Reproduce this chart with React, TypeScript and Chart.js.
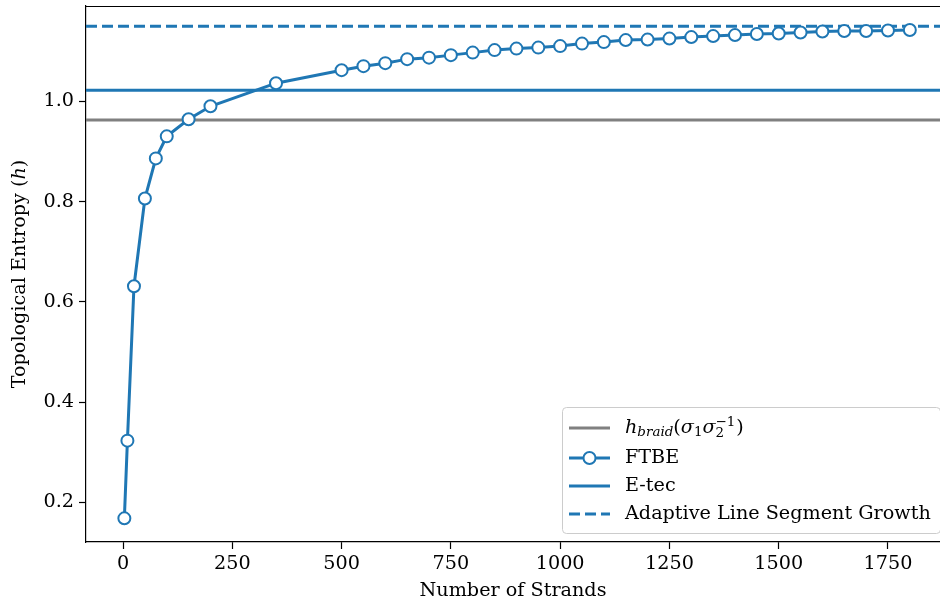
import React, { useEffect, useRef } from "react";
import { Chart, registerables } from "chart.js";

Chart.register(...registerables);

// ---- data ----
const strands = [3, 10, 25, 50, 75, 100, 150, 200, 350, 500, 550, 600, 650, 700, 750, 800, 850, 900, 950, 1000, 1050, 1100, 1150, 1200, 1250, 1300, 1350, 1400, 1450, 1500, 1550, 1600, 1650, 1700, 1750, 1800];
const ftbe = [0.168, 0.323, 0.631, 0.806, 0.886, 0.930, 0.964, 0.990, 1.036, 1.062, 1.070, 1.076, 1.084, 1.087, 1.092, 1.097, 1.102, 1.105, 1.107, 1.110, 1.115, 1.118, 1.122, 1.123, 1.125, 1.128, 1.130, 1.132, 1.134, 1.135, 1.137, 1.139, 1.140, 1.140, 1.141, 1.142];
const hBraid = 0.9624;
const eTec = 1.022;
const alsg = 1.1496;
const xTicks = [0, 250, 500, 750, 1000, 1250, 1500, 1750];
const yTicks = [0.2, 0.4, 0.6, 0.8, 1.0];
const xLimits = [-84.75, 1869];
const yLimits = [0.1208, 1.19];

const BLUE = "#1f77b4";
const GRAY = "#808080";
const FONT = "'DejaVu Serif', serif";
const FS = 19.2;

type Piece = { t: string; italic?: boolean; scale?: number; dy?: number };

function drawPieces(ctx: CanvasRenderingContext2D, pieces: Piece[], x: number, y: number, size: number) {
  let cx = x;
  for (const p of pieces) {
    const s = size * (p.scale ?? 1);
    ctx.font = `${p.italic ? "italic " : ""}${s}px ${FONT}`;
    ctx.fillText(p.t, cx, y + (p.dy ?? 0) * size);
    cx += ctx.measureText(p.t).width;
  }
  return cx - x;
}
function measurePieces(ctx: CanvasRenderingContext2D, pieces: Piece[], size: number) {
  let w = 0;
  for (const p of pieces) {
    const s = size * (p.scale ?? 1);
    ctx.font = `${p.italic ? "italic " : ""}${s}px ${FONT}`;
    w += ctx.measureText(p.t).width;
  }
  return w;
}

const extrasPlugin = {
  id: "extras",
  afterDraw(chart: any) {
    const ctx: CanvasRenderingContext2D = chart.ctx;
    const a = chart.chartArea;
    ctx.save();
    // top spine
    ctx.strokeStyle = "#000";
    ctx.lineWidth = 1.2;
    ctx.beginPath();
    ctx.moveTo(a.left, a.top + 0.5);
    ctx.lineTo(a.right, a.top + 0.5);
    ctx.stroke();

    // y title
    const yTitle: Piece[] = [{ t: "Topological Entropy (" }, { t: "h", italic: true }, { t: ")" }];
    ctx.fillStyle = "#000";
    ctx.textBaseline = "middle";
    ctx.textAlign = "left";
    ctx.translate(20, (a.top + a.bottom) / 2);
    ctx.rotate(-Math.PI / 2);
    const w = measurePieces(ctx, yTitle, FS);
    drawPieces(ctx, yTitle, -w / 2, 0, FS);
    ctx.restore();

    // legend
    ctx.save();
    const bx = 562, by = 407, bw = 378, bh = 126;
    ctx.fillStyle = "rgba(255,255,255,0.8)";
    ctx.strokeStyle = "#cccccc";
    ctx.lineWidth = 1;
    ctx.beginPath();
    (ctx as any).roundRect(bx + 0.5, by + 0.5, bw, bh, 4);
    ctx.fill();
    ctx.stroke();
    const rows = [428, 458, 486, 514];
    const hx0 = 569, hx1 = 610, tx = 625;
    ctx.lineWidth = 3;
    ctx.strokeStyle = GRAY;
    ctx.beginPath(); ctx.moveTo(hx0, rows[0]); ctx.lineTo(hx1, rows[0]); ctx.stroke();
    ctx.strokeStyle = BLUE;
    ctx.beginPath(); ctx.moveTo(hx0, rows[1]); ctx.lineTo(hx1, rows[1]); ctx.stroke();
    ctx.beginPath(); ctx.arc((hx0 + hx1) / 2, rows[1], 6, 0, Math.PI * 2);
    ctx.fillStyle = "#fff"; ctx.fill(); ctx.lineWidth = 2; ctx.stroke();
    ctx.lineWidth = 3;
    ctx.beginPath(); ctx.moveTo(hx0, rows[2]); ctx.lineTo(hx1, rows[2]); ctx.stroke();
    ctx.setLineDash([11, 5]);
    ctx.beginPath(); ctx.moveTo(hx0, rows[3]); ctx.lineTo(hx1, rows[3]); ctx.stroke();
    ctx.setLineDash([]);

    ctx.fillStyle = "#000";
    ctx.textBaseline = "middle";
    ctx.textAlign = "left";
    const head: Piece[] = [
      { t: "h", italic: true },
      { t: "braid", italic: true, scale: 0.7, dy: 0.25 },
      { t: "(" },
      { t: "σ", italic: true },
      { t: "1", scale: 0.7, dy: 0.25 },
      { t: "σ", italic: true },
    ];
    drawPieces(ctx, head, tx, rows[0], FS);
    const wA = measurePieces(ctx, head, FS);
    ctx.font = `${FS * 0.7}px ${FONT}`;
    ctx.fillText("2", tx + wA, rows[0] + 0.3 * FS);
    ctx.fillText("−1", tx + wA, rows[0] - 0.3 * FS);
    const wS = ctx.measureText("−1").width;
    ctx.font = `${FS}px ${FONT}`;
    ctx.fillText(")", tx + wA + wS + 1, rows[0]);

    ctx.font = `${FS}px ${FONT}`;
    ctx.fillText("FTBE", tx, rows[1]);
    ctx.fillText("E-tec", tx, rows[2]);
    ctx.fillText("Adaptive Line Segment Growth", tx, rows[3]);
    ctx.restore();
  },
};

const noPad = (s: any) => {
  s.paddingTop = 0;
  s.paddingBottom = 0;
  s.paddingLeft = 0;
  s.paddingRight = 0;
};

export default function App() {
  const ref = useRef<HTMLCanvasElement>(null);
  useEffect(() => {
    if (!ref.current) return;
    const hline = (v: number) => [
      { x: xLimits[0], y: v },
      { x: xLimits[1], y: v },
    ];
    const chart = new Chart(ref.current, {
      type: "line",
      data: {
        datasets: [
          { label: "hbraid", data: hline(hBraid), borderColor: GRAY, borderWidth: 3, pointRadius: 0, order: 4 },
          {
            label: "FTBE",
            data: strands.map((s, i) => ({ x: s, y: ftbe[i] })),
            borderColor: BLUE,
            borderWidth: 3,
            pointRadius: 6,
            pointBorderWidth: 2,
            pointBackgroundColor: "#fff",
            pointBorderColor: BLUE,
            order: 1,
          },
          { label: "E-tec", data: hline(eTec), borderColor: BLUE, borderWidth: 3, pointRadius: 0, order: 3 },
          { label: "Adaptive Line Segment Growth", data: hline(alsg), borderColor: BLUE, borderWidth: 3, borderDash: [11, 5], pointRadius: 0, order: 2 },
        ],
      },
      options: {
        responsive: false,
        animation: false,
        devicePixelRatio: 1,
        layout: { autoPadding: false, padding: { top: 6, right: 0, left: 0, bottom: 0 } },
        plugins: { legend: { display: false }, tooltip: { enabled: false } },
        scales: {
          x: {
            type: "linear",
            min: xLimits[0],
            max: xLimits[1],
            afterBuildTicks: (s: any) => { s.ticks = xTicks.map((v) => ({ value: v })); },
            afterFit: (s: any) => { s.height = 65; noPad(s); },
            grid: { display: true, drawOnChartArea: false, drawTicks: true, tickLength: 7, tickColor: "#000", tickWidth: 1.2 },
            border: { display: true, color: "#000", width: 1.2 },
            ticks: { color: "#000", font: { family: FONT, size: FS }, padding: 3, maxRotation: 0, autoSkip: false, callback: (v: any) => String(v) },
            title: { display: true, text: "Number of Strands", color: "#000", font: { family: FONT, size: FS }, padding: { top: 0, bottom: 4 } },
          },
          y: {
            type: "linear",
            min: yLimits[0],
            max: yLimits[1],
            afterBuildTicks: (s: any) => { s.ticks = yTicks.map((v) => ({ value: v })); },
            afterFit: (s: any) => { s.width = 86; noPad(s); },
            grid: { display: true, drawOnChartArea: false, drawTicks: true, tickLength: 7, tickColor: "#000", tickWidth: 1.2 },
            border: { display: true, color: "#000", width: 1.2 },
            ticks: { color: "#000", font: { family: FONT, size: FS }, padding: 5, callback: (v: any) => Number(v).toFixed(1) },
          },
        },
      },
      plugins: [extrasPlugin],
    } as any);
    return () => chart.destroy();
  }, []);
  return (
    <div style={{ position: "fixed", left: 0, top: 0, width: 940, height: 607, background: "#fff" }}>
      <canvas ref={ref} width={940} height={607} />
    </div>
  );
}
